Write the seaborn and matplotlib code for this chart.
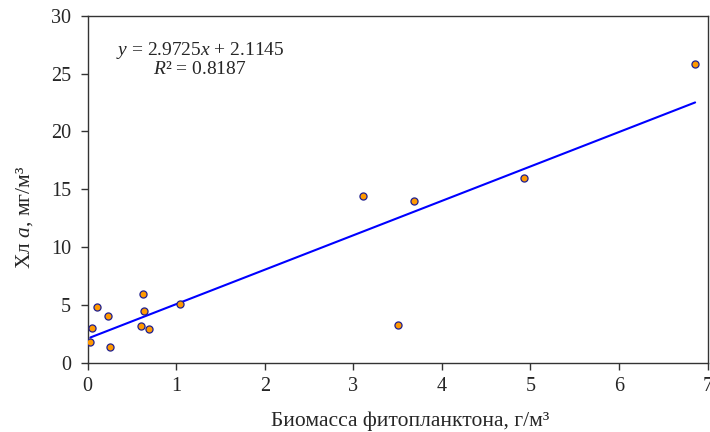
import numpy as np
import pandas as pd
import matplotlib
matplotlib.use("Agg")
import matplotlib.pyplot as plt
import seaborn as sns

# Data
biomass = [0.03, 0.05, 0.10, 0.25, 0.23, 0.63, 0.64, 0.60, 0.69, 1.04, 3.11, 3.69, 3.50, 4.93, 6.86]
chl_a = [1.8, 3.0, 4.8, 1.4, 4.1, 6.0, 4.5, 3.2, 2.9, 5.1, 14.4, 14.0, 3.3, 16.0, 25.8]
slope = 2.9725
intercept = 2.1145
r2 = 0.8187
x_ticks = [0, 1, 2, 3, 4, 5, 6, 7]
y_ticks = [0, 5, 10, 15, 20, 25, 30]

sns.set_theme(style="white")
plt.rcParams['font.family'] = ['Liberation Serif', 'DejaVu Serif']
plt.rcParams['mathtext.fontset'] = 'custom'
plt.rcParams['mathtext.rm'] = 'Liberation Serif'
plt.rcParams['mathtext.it'] = 'Liberation Serif:italic'

df = pd.DataFrame({"x": biomass, "y": chl_a})
xl = np.array([min(biomass), max(biomass)])
line_df = pd.DataFrame({"x": xl, "y": slope * xl + intercept})

fig = plt.figure(figsize=(7.1, 4.32), dpi=100)
ax = fig.add_axes([0.1235, 0.1597, 0.873, 0.804])

sns.lineplot(data=line_df, x="x", y="y", ax=ax, color="#0000FF", linewidth=1.5)
sns.scatterplot(data=df, x="x", y="y", ax=ax, color="#FF9900", edgecolor="#1F1F8F",
                linewidth=0.9, s=26, zorder=3)

ax.set_xlim(0, 7)
ax.set_ylim(0, 30)
ax.set_xticks(x_ticks)
ax.set_yticks(y_ticks)
ax.set_xticklabels([str(t) for t in x_ticks], fontsize=14.5)
ax.set_yticklabels([str(t) for t in y_ticks], fontsize=14.5)
ax.tick_params(axis="both", direction="out", length=5, width=1, color="#333333",
               bottom=True, left=True)
ax.tick_params(axis="x", pad=5)
ax.tick_params(axis="y", pad=7)
for s in ax.spines.values():
    s.set_color("#333333")
    s.set_linewidth(1)

ax.set_xlabel("Биомасса фитопланктона, г/м³", fontsize=15.5)
ax.set_ylabel("Хл $a$, мг/м³", fontsize=15.5)
ax.xaxis.set_label_coords(0.52, -0.14)
ax.yaxis.set_label_coords(-0.085, 0.42)

ax.text(0.181, 0.901, f"$y$ = {slope}$x$ + {intercept}", transform=ax.transAxes,
        ha="center", va="center", fontsize=14)
ax.text(0.181, 0.844, f"$R$² = {r2}", transform=ax.transAxes,
        ha="center", va="center", fontsize=14)

fig.savefig("out.png", dpi=100)
